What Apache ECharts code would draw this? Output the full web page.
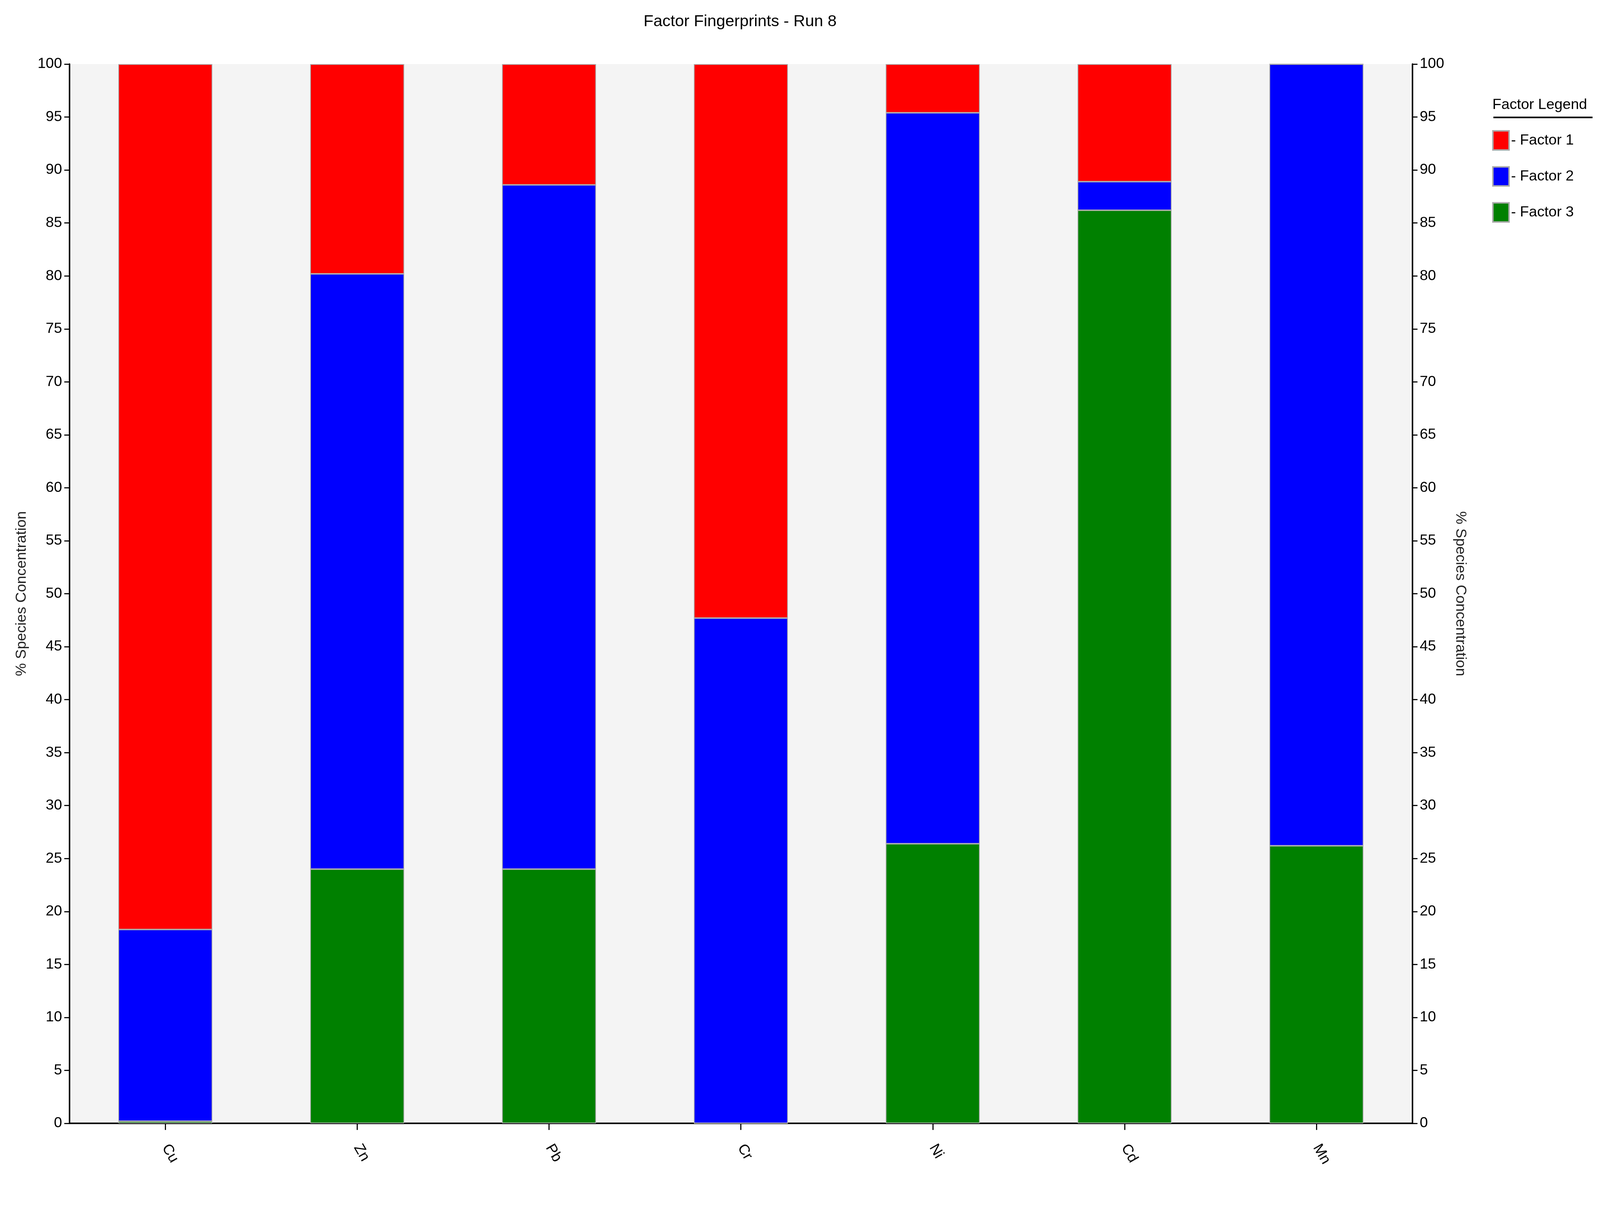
<!DOCTYPE html>
<html>
<head>
<meta charset="utf-8">
<script src="https://cdn.jsdelivr.net/npm/echarts@6/dist/echarts.min.js"></script>
<style>
  html, body { margin: 0; padding: 0; background: #fff; overflow: hidden; }
  #chart { width: 100vw; height: 100vh; }
</style>
</head>
<body>
<div id="chart"></div>
<script>
// species and factor shares (%)
const species = ['Cu', 'Zn', 'Pb', 'Cr', 'Ni', 'Cd', 'Mn'];
const factor3 = [0.2, 24.0, 24.0, 0.0, 26.4, 86.2, 26.2];
const factor2 = [18.1, 56.2, 64.6, 47.7, 69.0, 2.7, 73.8];
const factor1 = [81.7, 19.8, 11.4, 52.3, 4.6, 11.1, 0.0];
const yTicks = { min: 0, max: 100, interval: 5 };

const font = 'Liberation Sans';
const el = document.getElementById('chart');
// sizes below are written for a 4357px wide page, scaled to the real one
const s = el.clientWidth / 4357;
const sy = el.clientHeight / 3084;
const px = v => v * s;
const chart = echarts.init(el);

const axisY = (pos) => ({
    type: 'value', position: pos, min: yTicks.min, max: yTicks.max, interval: yTicks.interval,
    name: '% Species Concentration', nameLocation: 'middle', nameGap: px(110),
    nameRotate: pos === 'left' ? 90 : -90,
    nameTextStyle: { fontFamily: font, fontSize: px(40), color: '#222' },
    axisLine: { show: true, lineStyle: { color: '#000', width: px(4) } },
    axisTick: { show: true, length: px(14), lineStyle: { color: '#000', width: px(3) } },
    axisLabel: { fontFamily: font, fontSize: px(40), color: '#000', margin: px(20) },
    splitLine: { show: false }
});

const barSeries = (name, data, color) => ({
    name: name, type: 'bar', stack: 'all', data: data, barWidth: '49%',
    itemStyle: { color: color, borderColor: '#aaa', borderWidth: px(2) }
});

chart.setOption({
    animation: false,
    backgroundColor: '#fff',
    title: {
        text: 'Factor Fingerprints - Run 8', left: px(2010), top: 30 * sy, textAlign: 'center',
        textStyle: { fontFamily: font, fontSize: px(44), fontWeight: 'normal', color: '#000' }
    },
    legend: {
        orient: 'vertical', left: px(4058), top: 328 * sy, itemGap: px(42),
        itemWidth: px(44), itemHeight: px(52), icon: 'rect',
        data: ['Factor 1', 'Factor 2', 'Factor 3'],
        formatter: n => '- ' + n,
        textStyle: { fontFamily: font, fontSize: px(40), color: '#000' },
        itemStyle: { borderColor: '#aaa', borderWidth: px(4) }
    },
    graphic: [
        { type: 'text', left: px(4064), top: 250 * sy,
          style: { text: 'Factor Legend', font: px(40) + 'px Liberation Sans', fill: '#000' } },
        { type: 'line', left: px(4064), top: 298 * sy,
          shape: { x1: 0, y1: 0, x2: px(270), y2: 0 }, style: { stroke: '#000', lineWidth: px(4) } }
    ],
    grid: { left: px(189), right: px(511), top: 164 * sy, bottom: 209 * sy, show: true, backgroundColor: '#f4f4f4', borderWidth: 0 },
    xAxis: {
        type: 'category', data: species,
        axisLine: { show: true, lineStyle: { color: '#000', width: px(4) } },
        axisTick: { show: true, alignWithLabel: true, length: px(18), lineStyle: { color: '#000', width: px(3) } },
        axisLabel: { fontFamily: font, fontSize: px(40), color: '#000', rotate: -60, margin: px(60) }
    },
    yAxis: [axisY('left'), axisY('right')],
    series: [
        barSeries('Factor 3', factor3, '#008000'),
        barSeries('Factor 2', factor2, '#0000ff'),
        barSeries('Factor 1', factor1, '#ff0000')
    ]
});
</script>
</body>
</html>
